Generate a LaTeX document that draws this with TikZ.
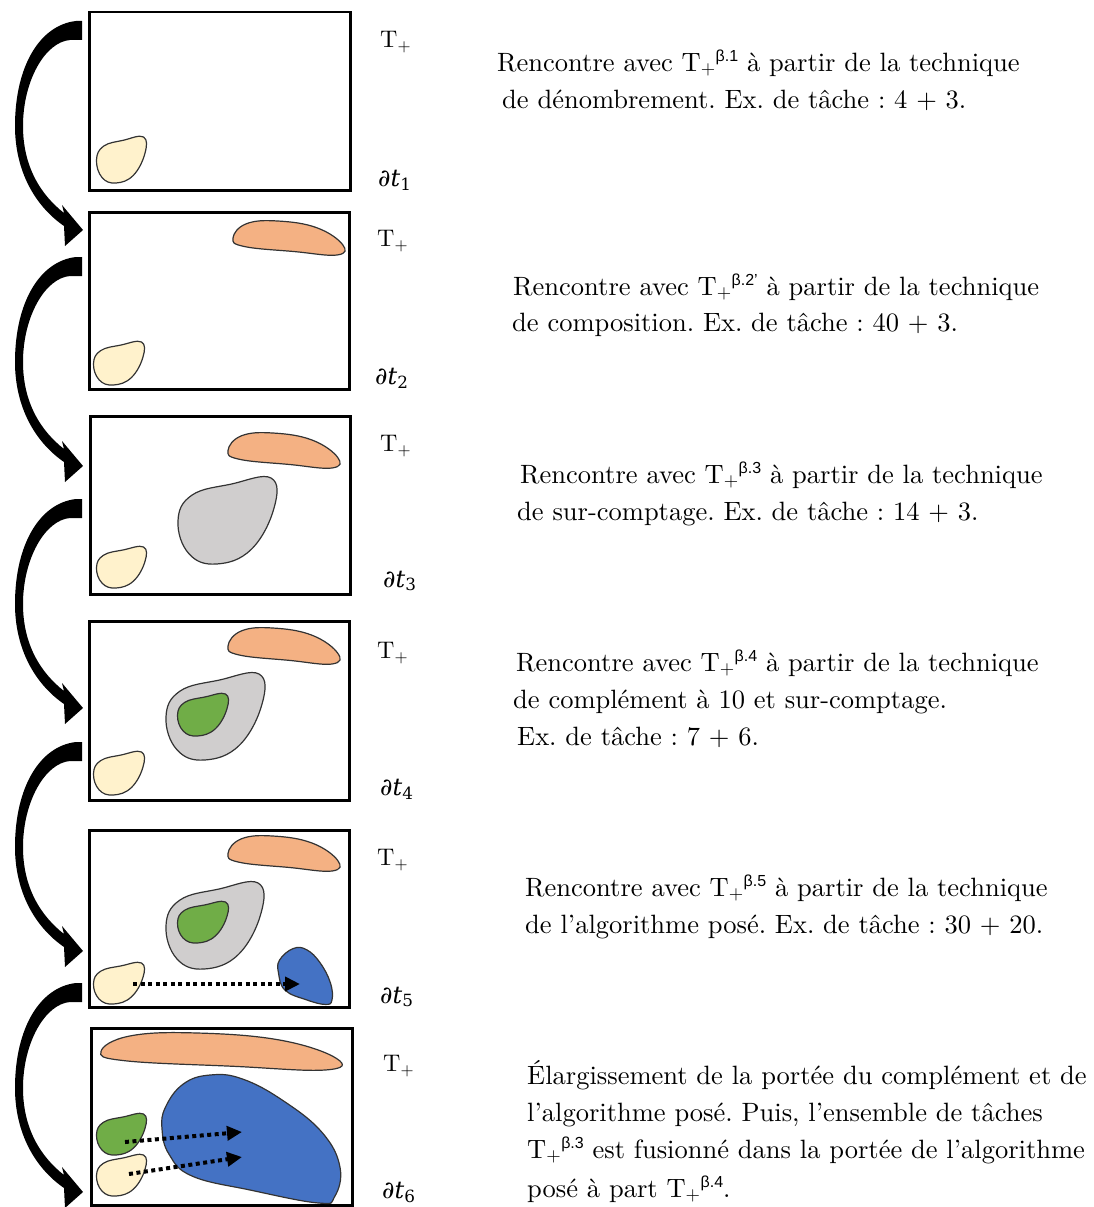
\documentclass[tikz,border=0pt]{standalone}
\usepackage{fontspec}
\newfontfamily\betafont{Liberation Sans}
\newfontfamily\descfont{lmroman10-regular.otf}
\newfontfamily\pfont{DejaVu Serif}
\usetikzlibrary{arrows.meta}
\definecolor{cream}{HTML}{FFF2CC}
\definecolor{peach}{HTML}{F4B183}
\definecolor{lgray}{HTML}{D0CECE}
\definecolor{lgreen}{HTML}{70AD47}
\definecolor{mblue}{HTML}{4472C4}
\frenchspacing
\newcommand\Tsup[1]{T\textsubscript{+}\raisebox{9.5pt}{\fontsize{16}{16}\betafont #1}}
\newcommand\tearP{plot[smooth cycle,tension=0.7] coordinates{(0.95,0.0) (0.55,0.07) (0.15,0.2) (0.01,0.5) (0.12,0.88) (0.40,1.0) (0.75,0.83) (0.98,0.35)}}
\newcommand\slugP{plot[smooth cycle,tension=0.7] coordinates{(0,0.5) (0.12,0.08) (0.40,0.0) (0.75,0.2) (0.98,0.7) (0.93,1.0) (0.55,0.9) (0.1,0.75)}}
\newcommand\blueSP{plot[smooth cycle,tension=0.7] coordinates{(0.03,0.21) (0.28,0.01) (0.53,0.03) (0.78,0.26) (0.97,0.61) (1.0,0.91) (0.88,0.99) (0.53,0.91) (0.13,0.74) (0.01,0.44)}}
\newcommand\blueLP{plot[smooth cycle,tension=0.7] coordinates{(0.02,0.25) (0.12,0.07) (0.27,0.0) (0.45,0.03) (0.68,0.2) (0.9,0.45) (1.0,0.72) (0.97,0.95) (0.88,1.0) (0.5,0.9) (0.17,0.79) (0.04,0.62) (0.0,0.42)}}
\newcommand\blob[6]{\begin{scope}[shift={(#3,#4)},xscale=#5-#3,yscale=#6-#4]
\draw[blobline,fill=#2] #1;\end{scope}}
\newcommand\bigarrow[1]{\begin{scope}[shift={(0,#1)}]
\fill (82,0) -- (76,0) .. controls (40,4) and (15,45) .. (15,105) .. controls (15,150) and (35,185) .. (64,205) -- (65,225) -- (83,209) -- (62,184) -- (64,192) .. controls (41,174) and (23,146) .. (23,105) .. controls (23,60) and (45,21) .. (70,19) -- (82,19) -- cycle;
\end{scope}}
\begin{document}
\begin{tikzpicture}[x=1pt,y=-1pt,
  box/.style={draw,line width=2.5pt,inner sep=0,anchor=north west},
  blobline/.style={draw=black!80,line width=1.2pt},
  desc/.style={anchor=base west,inner sep=0,font=\descfont\fontsize{26.5}{37}\selectfont},
  lab/.style={anchor=west,inner sep=0,font=\descfont\fontsize{24}{26}\selectfont},
  plab/.style={anchor=west,inner sep=0,font=\pfont\fontsize{24}{26}\selectfont},
  dotarrow/.style={line width=4pt,dash pattern=on 4pt off 3.5pt,-{Triangle[length=15pt,width=14pt]}}]
\useasboundingbox (0,0) rectangle (1094,1207);
% boxes
\node[box,minimum width=261pt,minimum height=178pt] (b1) at (88,11) {};
\node[box,minimum width=260pt,minimum height=177pt] (b2) at (88,211) {};
\node[box,minimum width=260pt,minimum height=178pt] (b3) at (89,415) {};
\node[box,minimum width=260pt,minimum height=179pt] (b4) at (88,620) {};
\node[box,minimum width=260pt,minimum height=177pt] (b5) at (88,829) {};
\node[box,minimum width=261pt,minimum height=177pt] (b6) at (90,1027) {};
% blobs
\blob{\tearP}{cream}{96}{137}{146}{183}
\blob{\tearP}{cream}{93}{342}{144}{385}
\blob{\slugP}{peach}{233}{221}{345}{255}
\blob{\tearP}{cream}{96}{547}{146}{588}
\blob{\slugP}{peach}{228}{433}{340}{468}
\blob{\tearP}{lgray}{177}{478}{276}{564}
\blob{\tearP}{cream}{93}{752}{144}{795}
\blob{\slugP}{peach}{228}{628}{340}{664}
\blob{\tearP}{lgray}{165}{674}{264}{760}
\blob{\tearP}{lgreen}{177}{694}{228}{736}
\blob{\tearP}{cream}{93}{963}{144}{1004}
\blob{\slugP}{peach}{228}{836}{340}{871}
\blob{\tearP}{lgray}{165}{883}{263}{969}
\blob{\tearP}{lgreen}{177}{902}{228}{943}
\blob{\blueSP}{mblue}{278}{948}{332}{1005}
\blob{\slugP}{peach}{101}{1033}{342}{1070}
\blob{\blueLP}{mblue}{162}{1075}{340}{1203}
\blob{\tearP}{lgreen}{96}{1114}{146}{1155}
\blob{\tearP}{cream}{96}{1155}{146}{1196}
% dotted arrows
\coordinate (d5s) at (133,984); \coordinate (d5e) at (300,984);
\draw[dotarrow] (d5s) -- (d5e);
\coordinate (d6as) at (125,1142); \coordinate (d6ae) at (242,1132);
\coordinate (d6bs) at (129,1174); \coordinate (d6be) at (242,1157);
\draw[dotarrow] (d6as) -- (d6ae);
\draw[dotarrow] (d6bs) -- (d6be);
% big curved arrows
\bigarrow{21}
\bigarrow{257}
\bigarrow{499}
\bigarrow{742}
\bigarrow{983}
% labels
\node[lab] (T1) at (380,42) {T\textsubscript{+}};
\node[lab] (T2) at (377,241) {T\textsubscript{+}};
\node[lab] (T3) at (380,446) {T\textsubscript{+}};
\node[lab] (T4) at (377,653) {T\textsubscript{+}};
\node[lab] (T5) at (377,860) {T\textsubscript{+}};
\node[lab] (T6) at (383,1066) {T\textsubscript{+}};
\node[plab] (p1) at (378,180) {\itshape ∂t\textsubscript{\upshape 1}};
\node[plab] (p2) at (375,378) {\itshape ∂t\textsubscript{\upshape 2}};
\node[plab] (p3) at (383,581) {\itshape ∂t\textsubscript{\upshape 3}};
\node[plab] (p4) at (380,789) {\itshape ∂t\textsubscript{\upshape 4}};
\node[plab] (p5) at (380,997) {\itshape ∂t\textsubscript{\upshape 5}};
\node[plab] (p6) at (382,1192) {\itshape ∂t\textsubscript{\upshape 6}};
% descriptions
\node[desc] (t1a) at (497,71) {Rencontre avec \Tsup{β.1} à partir de la technique};
\node[desc] (t1b) at (502,108) {de dénombrement. Ex. de tâche : 4 + 3.};
\node[desc] (t2a) at (513,295) {Rencontre avec \Tsup{β.2’} à partir de la technique};
\node[desc] (t2b) at (512,331) {de composition. Ex. de tâche : 40 + 3.};
\node[desc] (t3a) at (520,483) {Rencontre avec \Tsup{β.3} à partir de la technique};
\node[desc] (t3b) at (517,520) {de sur-comptage. Ex. de tâche : 14 + 3.};
\node[desc] (t4a) at (516,671) {Rencontre avec \Tsup{β.4} à partir de la technique};
\node[desc] (t4b) at (513,708) {de complément à 10 et sur-comptage.};
\node[desc] (t4c) at (517,745) {Ex. de tâche : 7 + 6.};
\node[desc] (t5a) at (525,896) {Rencontre avec \Tsup{β.5} à partir de la technique};
\node[desc] (t5b) at (525,933) {de l’algorithme posé. Ex. de tâche : 30 + 20.};
\node[desc] (t6a) at (527,1084) {Élargissement de la portée du complément et de};
\node[desc] (t6b) at (527,1121) {l’algorithme posé. Puis, l’ensemble de tâches};
\node[desc] (t6c) at (527,1158) {\Tsup{β.3} est fusionné dans la portée de l’algorithme};
\node[desc] (t6d) at (527,1197) {posé à part \Tsup{β.4}.};
\end{tikzpicture}
\end{document}
